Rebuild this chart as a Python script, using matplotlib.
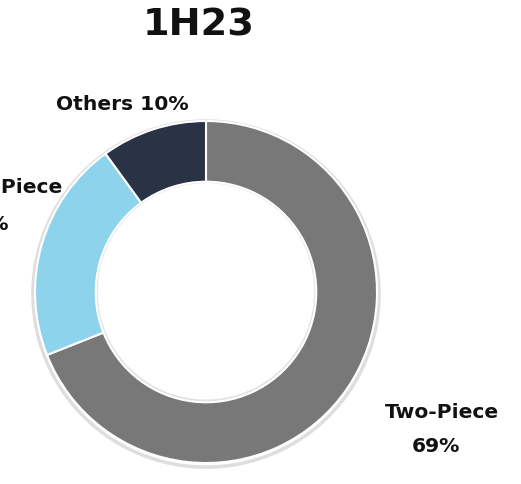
import matplotlib.pyplot as plt
from matplotlib.patches import Circle

title = "1H23"
labels = ["Two-Piece", "One-Piece", "Others"]
values = [69, 21, 10]
colors = ["#777877", "#8ED3EC", "#2A3245"]

fig = plt.figure(figsize=(5.21, 4.84), dpi=100)
ax = fig.add_axes([0, 0, 1, 1])

# faint shadow halo behind the ring
ax.add_patch(Circle((0, -0.012), 1.012, facecolor='none', edgecolor='#c8c8c8',
                    linewidth=2.5, alpha=0.6, zorder=0))
ax.add_patch(Circle((0, 0.004), 0.641, facecolor='none', edgecolor='#d0d0d0',
                    linewidth=2, alpha=0.6, zorder=0))

ax.pie(values, colors=colors, startangle=90, counterclock=False,
       radius=1.0, wedgeprops=dict(width=0.355, edgecolor='white', linewidth=1.5))

# ring: radius 1 ~ 171 px, center at px (206, 292)
scale = 171.0
cx, cy = 206, 292
ax.set_xlim(-cx / scale, (521 - cx) / scale)
ax.set_ylim(-(484 - cy) / scale, cy / scale)
ax.set_aspect('equal')
ax.axis('off')


def px(x, y):
    return (x - cx) / scale, (cy - y) / scale


lab_font = dict(family='DejaVu Sans', fontweight='bold', fontsize=14.6, color='#111111')

# Two-Piece
x, y = px(442, 412)
ax.text(x, y, labels[0], ha='center', va='center', **lab_font)
x, y = px(436, 446)
ax.text(x, y, f"{values[0]}%", ha='center', va='center', **lab_font)

# One-Piece (cut off at left edge, as in the source)
x, y = px(62, 188)
ax.text(x, y, labels[1], ha='right', va='center', **lab_font)
x, y = px(9, 225)
ax.text(x, y, f"{values[1]}%", ha='right', va='center', **lab_font)

# Others
x, y = px(122, 105)
ax.text(x, y, f"{labels[2]} {values[2]}%", ha='center', va='center', **lab_font)

x, y = px(199, 26)
ax.text(x, y, title, ha='center', va='center', fontsize=27.5,
        fontweight='bold', family='DejaVu Sans', color='#111111')

fig.savefig('out.png', dpi=100)
